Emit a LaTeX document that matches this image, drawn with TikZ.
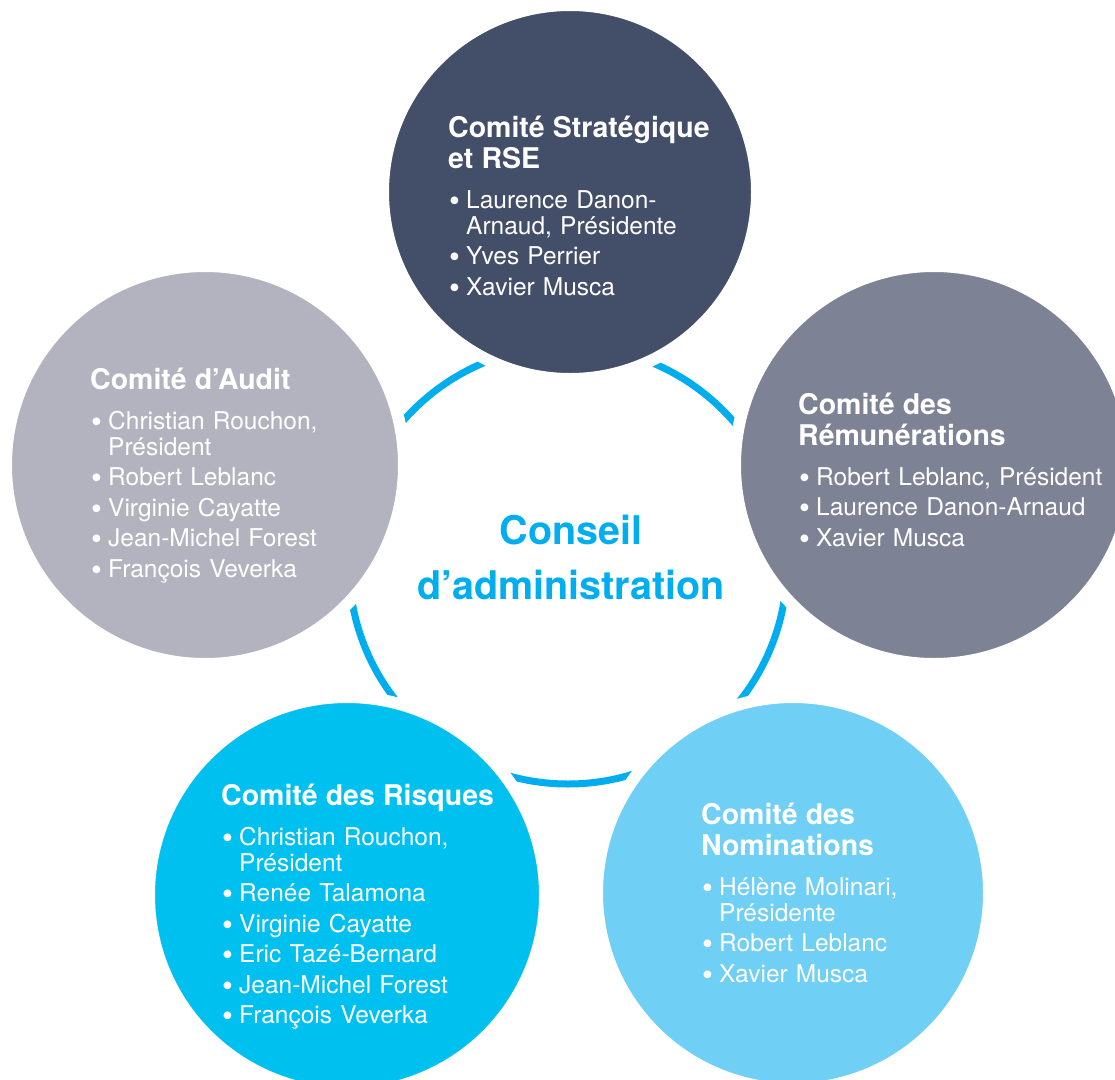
\documentclass[tikz,border=0pt]{standalone}
\usepackage{fontspec}
\setmainfont{TeX Gyre Heros}
\definecolor{ringBlue}{HTML}{00AEEF}
\definecolor{stratCol}{HTML}{434E68}
\definecolor{auditCol}{HTML}{B3B3BF}
\definecolor{remuCol}{HTML}{7E8295}
\definecolor{risqCol}{HTML}{00C0F0}
\definecolor{nomiCol}{HTML}{6FCFF5}
\newcommand\txtSetup{\fontsize{24.5pt}{26pt}\selectfont\parskip=0pt\lineskiplimit=-20pt}
\newcommand\hdr[1]{{\fontsize{28.5pt}{31pt}\selectfont\bfseries #1\par}\vskip 14pt}
\newcommand\itm[1]{\hangindent=18pt\hangafter=1\noindent\makebox[18pt][l]{\hspace{1pt}\raisebox{-3pt}{\fontsize{31pt}{26pt}\selectfont\textbullet}}#1\par\vskip 4.5pt}
\tikzset{
    comCircle/.style={circle, draw=white, line width=12pt, inner sep=0pt},
    txtBlock/.style={anchor=base west, inner sep=0pt, text width=340pt, align=left,
                     text=white, font=\txtSetup}
}

\begin{document}
\begin{tikzpicture}[x=1pt,y=-1pt]

    \useasboundingbox (0,0) rectangle (1115,1079);
    \clip (0,0) rectangle (1115,1079);

    %draws the ring of the board:
    \node[circle, draw=ringBlue, line width=7pt, minimum size=438pt] (conseil) at (568,565) {};

    %draws the committees:
    \node[comCircle, fill=stratCol, minimum size=374pt] (strat) at (570,192) {};
    \node[comCircle, fill=auditCol, minimum size=398pt] (audit) at (205,465) {};
    \node[comCircle, fill=remuCol,  minimum size=398pt] (remu)  at (934,465) {};
    \node[comCircle, fill=risqCol,  minimum size=396pt] (risq)  at (347,895) {};
    \node[comCircle, fill=nomiCol,  minimum size=392pt] (nomi)  at (793,893) {};

    %texts:
    \node[anchor=base, inner sep=0pt, text width=400pt, align=center, text=ringBlue,
          font=\fontsize{39.5pt}{55pt}\selectfont\bfseries] (conseilTxt) at (571,544)
          {Conseil\\d’administration};

    \node[txtBlock] (stratTxt) at (448,137) {\hdr{Comité Stratégique\\et RSE}%
        \itm{Laurence Danon-\newline Arnaud, Présidente}%
        \itm{Yves Perrier}%
        \itm{Xavier Musca}};

    \node[txtBlock] (auditTxt) at (90,389) {\hdr{Comité d’Audit}%
        \itm{Christian Rouchon,\newline Président}%
        \itm{Robert Leblanc}%
        \itm{Virginie Cayatte}%
        \itm{Jean-Michel Forest}%
        \itm{François Veverka}};

    \node[txtBlock] (remuTxt) at (798,414) {\hdr{Comité des\\Rémunérations}%
        \itm{Robert Leblanc, Président}%
        \itm{Laurence Danon-Arnaud}%
        \itm{Xavier Musca}};

    \node[txtBlock] (risqTxt) at (221,805) {\hdr{Comité des Risques}%
        \itm{Christian Rouchon,\newline Président}%
        \itm{Renée Talamona}%
        \itm{Virginie Cayatte}%
        \itm{Eric Tazé-Bernard}%
        \itm{Jean-Michel Forest}%
        \itm{François Veverka}};

    \node[txtBlock] (nomiTxt) at (701,824) {\hdr{Comité des\\Nominations}%
        \itm{Hélène Molinari,\newline Présidente}%
        \itm{Robert Leblanc}%
        \itm{Xavier Musca}};

\end{tikzpicture}
\end{document}
